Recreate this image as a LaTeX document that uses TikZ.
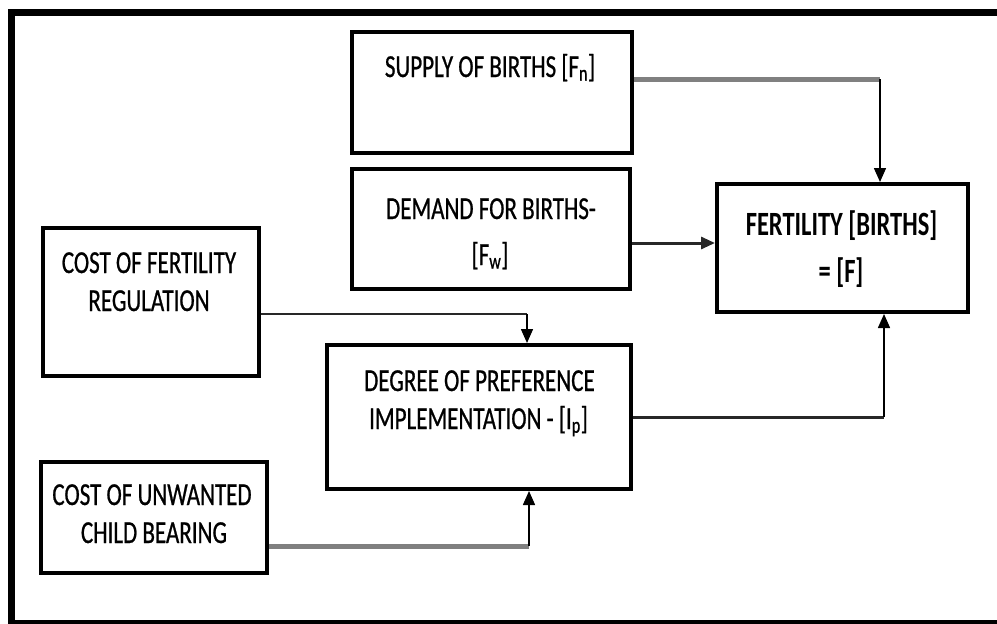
\documentclass[tikz,border=0pt]{standalone}
\usepackage{fontspec}
\setmainfont{Carlito}[FakeStretch=0.72,FakeBold=0.7]
\newfontfamily\fertfont{Carlito}[FakeStretch=0.72]
\usetikzlibrary{arrows.meta}
\definecolor{linegray}{RGB}{128,128,128}
\definecolor{darkln}{RGB}{40,40,40}
\begin{document}
\begin{tikzpicture}[x=1pt,y=-1pt,
  box/.style={draw=black,line width=4pt,inner sep=0pt,fill=white},
  lbl/.style={anchor=base,inner sep=0pt,font=\fontsize{32}{38}\selectfont},
  blbl/.style={anchor=base,inner sep=0pt,font=\fertfont\bfseries\fontsize{34}{40}\selectfont},
  grayline/.style={draw=linegray,line width=5pt},
  darkline/.style={draw=darkln,line width=3pt},
  midline/.style={draw=darkln,line width=2.5pt},
  arr/.style={draw=black,line width=1.5pt,-{Triangle[length=14pt,width=12pt]}},
  darrow/.style={draw=darkln,line width=3pt,-{Triangle[length=14pt,width=12pt]}}]
\useasboundingbox (0,0) rectangle (997,624);
\clip (0,0) rectangle (997,624);
% outer frame
\draw[line width=7pt,miter limit=10] (1000,12.5) -- (11.5,12.5) -- (11.5,623) -- (1000,623);
% boxes
\node[box,minimum width=280pt,minimum height=121pt] (supply)   at (492,92.5) {};
\node[box,minimum width=278pt,minimum height=120pt] (demand)   at (491,229) {};
\node[box,minimum width=251pt,minimum height=128pt] (fert)     at (842.5,248) {};
\node[box,minimum width=216pt,minimum height=148pt] (costreg)  at (151,302) {};
\node[box,minimum width=304pt,minimum height=144pt] (degree)   at (479,417) {};
\node[box,minimum width=226pt,minimum height=111pt] (unwanted) at (154,517.5) {};
% connectors
\coordinate (k1) at (880,79);
\draw[grayline] (supply.east |- k1) -- (k1);
\draw[arr] (k1) -- (k1 |- fert.north);
\coordinate (k2) at (717,243);
\draw[darrow] (demand.east |- k2) -- (k2 -| fert.west);
\coordinate (k3) at (527,314);
\draw[midline] (costreg.east |- k3) -- (k3);
\draw[arr] (k3) -- (k3 |- degree.north);
\coordinate (k4) at (884,417);
\draw[darkline] (degree.east) -- (k4);
\draw[arr] (k4) -- (k4 |- fert.south);
\coordinate (k5) at (529,546);
\draw[grayline] (unwanted.east |- k5) -- (k5);
\draw[arr] (k5) -- (k5 |- degree.south);
% texts
\node[lbl] (t1) at (490,77) {SUPPLY OF BIRTHS [F\textsubscript{n}]};
\node[lbl] (t2a) at (491,219) {DEMAND FOR BIRTHS-};
\node[lbl] (t2b) at (490,265) {[F\textsubscript{w}]};
\node[blbl] (t3a) at (841.5,235) {FERTILITY [BIRTHS]};
\node[blbl] (t3b) at (841,282) {= [F]};
\node[lbl] (t4a) at (149,273) {COST OF FERTILITY};
\node[lbl] (t4b) at (149,311) {REGULATION};
\node[lbl] (t5a) at (479.5,391) {DEGREE OF PREFERENCE};
\node[lbl] (t5b) at (478.5,429) {IMPLEMENTATION - [I\textsubscript{p}]};
\node[lbl] (t6a) at (152,505) {COST OF UNWANTED};
\node[lbl] (t6b) at (154,543) {CHILD BEARING};
\end{tikzpicture}
\end{document}
